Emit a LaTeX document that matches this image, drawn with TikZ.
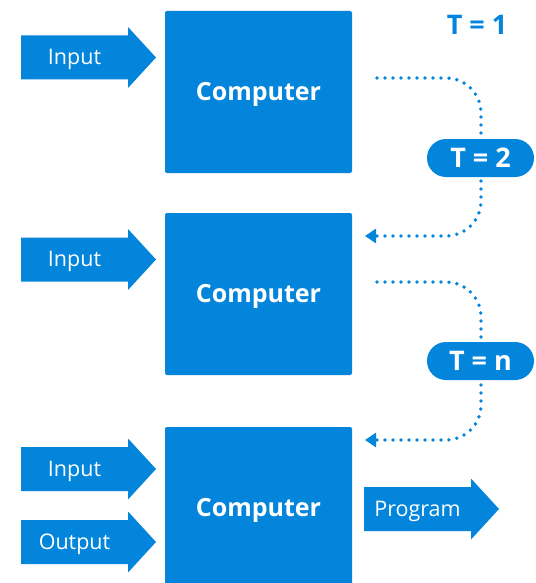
\documentclass[tikz,border=0pt]{standalone}
\usepackage{fontspec}
\setmainfont{Open Sans}
\usetikzlibrary{arrows.meta}
\definecolor{mblue}{HTML}{0285DB}
\newcommand\flowarrow[4]{%
  \fill[mblue] (#1,{#4-22}) -- (#2,{#4-22}) -- (#2,{#4-30.5}) -- (#3,#4)
    -- (#2,{#4+30.5}) -- (#2,{#4+22}) -- (#1,{#4+22}) -- cycle;}
\begin{document}
\begin{tikzpicture}[x=1pt,y=-1pt,
  comp/.style={fill=mblue, rounded corners=2pt, minimum width=187pt, minimum height=162pt,
    text=white, font=\fontsize{25}{30}\selectfont\bfseries, inner sep=0pt,
    text height=17.9pt, text depth=0pt},
  arrtext/.style={text=white, font=\fontsize{21.5}{26}\selectfont, inner sep=0pt,
    text height=15.4pt, text depth=0pt},
  loopline/.style={draw=mblue, line width=3.8pt, line cap=round, dash pattern=on 0pt off 8pt,
    rounded corners=35pt, -{Triangle[length=11pt,width=14pt]}},
  pill/.style={fill=mblue, rounded corners=19pt, minimum width=107pt, minimum height=38pt,
    text=white, font=\fontsize{27}{32}\selectfont\bfseries, inner sep=0pt,
    text height=19.3pt, text depth=0pt},
]
\useasboundingbox (0,0) rectangle (535,583);

% computers
\node[comp] (c1) at (258.5,92) {Computer};
\node[comp] (c2) at (258.5,294) {Computer};
\node[comp] (c3) at (258.5,508) {Computer};

% arrows
\flowarrow{21}{128}{156}{57.5}
\node[arrtext] (in1) at (74.5,57) {Input};
\flowarrow{21}{128}{156}{259.5}
\node[arrtext] (in2) at (74.5,259) {Input};
\flowarrow{21}{128}{156}{469}
\node[arrtext] (in3) at (74.5,468.5) {Input};
\flowarrow{21}{128}{156}{542}
\node[arrtext] (out3) at (74.5,541.5) {Output};
\flowarrow{364}{471}{499}{509}
\node[arrtext] (prog) at (417.5,508.5) {Program};

% T = 1
\node[text=mblue, font=\fontsize{27}{32}\selectfont\bfseries, inner sep=0pt,
  text height=19.3pt, text depth=0pt] (t1) at (477,25) {T = 1};

% loops
\coordinate (s1) at (377,78);
\coordinate (k1) at (481,78);
\coordinate (k2) at (481,236);
\coordinate (e1) at (365,236);
\draw[loopline] (s1) -- (k1) -- (k2) -- (e1);
\node[pill] (t2) at (480.5,158) {T = 2};

\coordinate (s2) at (377,282);
\coordinate (k3) at (481,282);
\coordinate (k4) at (481,440);
\coordinate (e2) at (365,440);
\draw[loopline] (s2) -- (k3) -- (k4) -- (e2);
\node[pill] (tn) at (480.5,361) {T = n};
\end{tikzpicture}
\end{document}
